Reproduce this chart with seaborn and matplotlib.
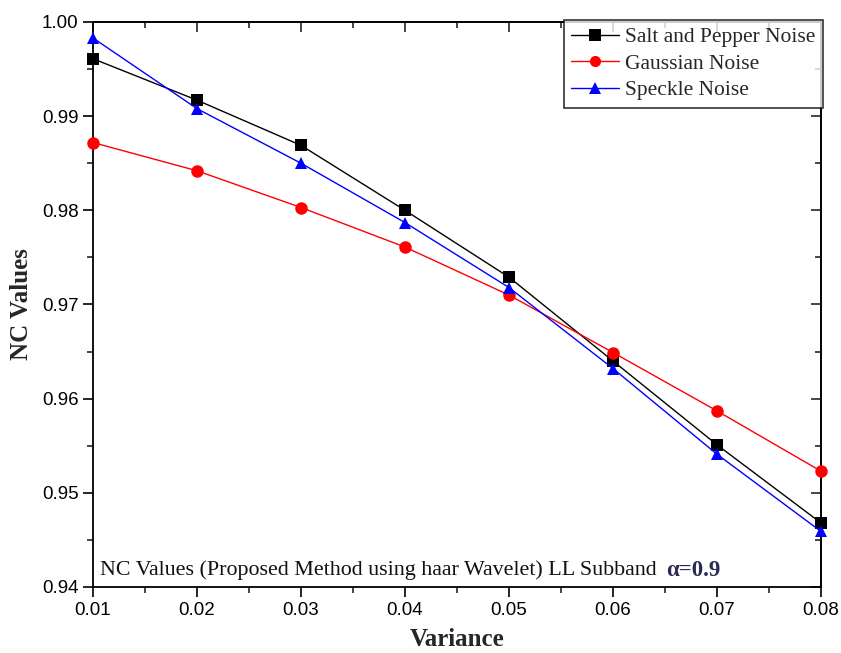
import matplotlib
matplotlib.use("Agg")
import matplotlib.pyplot as plt
import seaborn as sns
import pandas as pd
from matplotlib.ticker import MultipleLocator, FormatStrFormatter
from matplotlib.lines import Line2D

variance = [0.01, 0.02, 0.03, 0.04, 0.05, 0.06, 0.07, 0.08]
salt_pepper = [0.9961, 0.9917, 0.9869, 0.9800, 0.9729, 0.9640, 0.9551, 0.9468]
gaussian = [0.9872, 0.9842, 0.9803, 0.9761, 0.9710, 0.9649, 0.9587, 0.9523]
speckle = [0.9983, 0.9908, 0.9850, 0.9787, 0.9718, 0.9632, 0.9541, 0.9459]
series_names = ["Salt and Pepper Noise", "Gaussian Noise", "Speckle Noise"]
colors = ["#000000", "#ff0000", "#0000ff"]
markers = ["s", "o", "^"]

sns.set_theme(style="ticks")
plt.rcParams["font.family"] = ["Liberation Serif", "DejaVu Serif"]

rows = []
for name, vals in zip(series_names, [salt_pepper, gaussian, speckle]):
    for x, y in zip(variance, vals):
        rows.append({"Variance": x, "NC": y, "Noise": name})
df = pd.DataFrame(rows)

fig = plt.figure(figsize=(8.41, 6.53), dpi=100)
ax = fig.add_axes([93/841, 1-587/653, 728/841, 565/653])

sns.lineplot(data=df, x="Variance", y="NC", hue="Noise", style="Noise",
             hue_order=series_names, style_order=series_names,
             palette=dict(zip(series_names, colors)),
             markers=dict(zip(series_names, markers)), dashes=False,
             markersize=9, markeredgewidth=0, linewidth=1.0, ax=ax, legend=False,
             clip_on=False, zorder=3)

ax.set_xlim(0.01, 0.08)
ax.set_ylim(0.94, 1.00)
ax.xaxis.set_major_locator(MultipleLocator(0.01))
ax.xaxis.set_minor_locator(MultipleLocator(0.005))
ax.yaxis.set_major_locator(MultipleLocator(0.01))
ax.yaxis.set_minor_locator(MultipleLocator(0.005))
ax.xaxis.set_major_formatter(FormatStrFormatter("%.2f"))
ax.yaxis.set_major_formatter(FormatStrFormatter("%.2f"))

for sp in ax.spines.values():
    sp.set_linewidth(1.3)
    sp.set_color("black")

ax.tick_params(axis="both", which="major", direction="out", length=7, width=1.2,
               labelsize=13.5, colors="black")
ax.tick_params(axis="both", which="minor", direction="out", length=4, width=1.2)
for lab in ax.get_xticklabels() + ax.get_yticklabels():
    lab.set_fontfamily(["Liberation Sans", "DejaVu Sans"])

# inward ticks on top and right
secx = ax.secondary_xaxis("top")
secx.xaxis.set_major_locator(MultipleLocator(0.01))
secx.xaxis.set_minor_locator(MultipleLocator(0.005))
secx.tick_params(which="major", direction="in", length=7, width=1.2, labeltop=False)
secx.tick_params(which="minor", direction="in", length=4, width=1.2)
secx.spines["top"].set_linewidth(1.3)
secy = ax.secondary_yaxis("right")
secy.yaxis.set_major_locator(MultipleLocator(0.01))
secy.yaxis.set_minor_locator(MultipleLocator(0.005))
secy.tick_params(which="major", direction="in", length=7, width=1.2, labelright=False)
secy.tick_params(which="minor", direction="in", length=4, width=1.2)
secy.spines["right"].set_linewidth(1.3)

ax.set_xlabel("Variance", fontsize=18, fontweight="bold", labelpad=7)
ax.set_ylabel("NC Values", fontsize=18, fontweight="bold", labelpad=6)

handles = [Line2D([0], [0], color=c, marker=m, markersize=8, markeredgewidth=0, lw=1.0)
           for c, m in zip(colors, markers)]
leg = ax.legend(handles, series_names, loc="upper right", bbox_to_anchor=(1.003, 1.004),
                borderaxespad=0, frameon=True, fancybox=False, fontsize=15.5,
                handlelength=2.2, handletextpad=0.3, labelspacing=0.3,
                borderpad=0.35)
leg.get_frame().set_edgecolor("black")
leg.get_frame().set_linewidth(1.2)
leg.set_zorder(5)

t = ax.text(0.0096, 0.03, "NC Values (Proposed Method using haar Wavelet) LL Subband",
            transform=ax.transAxes, fontsize=15.8, va="center", ha="left", color="#111111")
ax.annotate("α=0.9", xy=(1, 0.5), xycoords=t, xytext=(7, 0), textcoords="offset points",
            fontsize=16.5, fontweight="bold", va="center", ha="left", color="#2a2a55")

fig.savefig("out.png", dpi=100)
